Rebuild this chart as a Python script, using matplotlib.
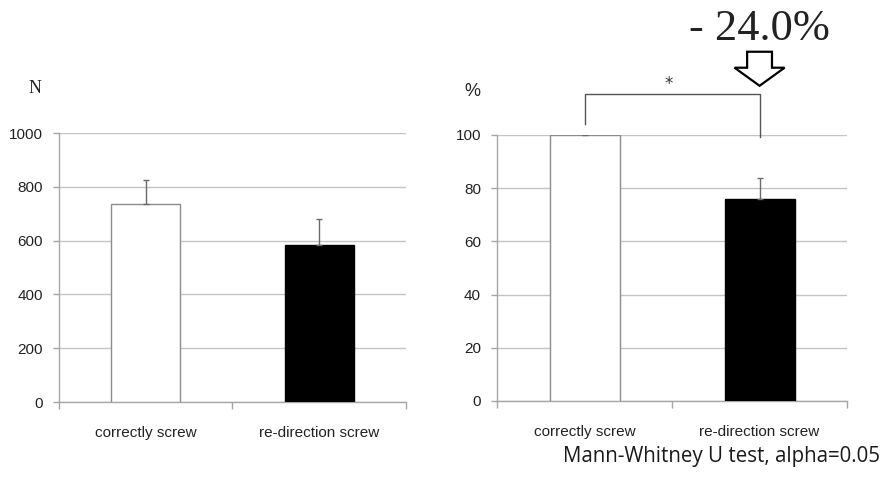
import matplotlib
matplotlib.use("Agg")
import matplotlib.pyplot as plt
from matplotlib.patches import Polygon

# data
categories = ["correctly screw", "re-direction screw"]
force_mean = [736, 584]
force_err = [90, 96]
ratio_mean = [100.0, 76.0]
ratio_err = [0.5, 8.0]
force_ticks = [0, 200, 400, 600, 800, 1000]
ratio_ticks = [0, 20, 40, 60, 80, 100]
test_note = "Mann-Whitney U test, alpha=0.05"

TICK_FONT = ["Liberation Sans", "DejaVu Sans"]
SERIF = ["Liberation Serif", "DejaVu Serif"]
GRID = "#c4c4c4"
AXIS = "#a6a6a6"


def draw_panel(ax, means, errs, ticks, unit, unit_font):
    xs = list(range(len(categories)))
    ax.bar(xs, means, width=0.4, color=["white", "black"],
           edgecolor=["#8c8c8c", "black"], linewidth=1.0, zorder=3)
    ax.errorbar(xs, means, yerr=[[0] * len(errs), errs], fmt="none",
                ecolor="#6a6a6a", elinewidth=1.0, capsize=2.2, capthick=1.0, zorder=4)

    ax.set_xlim(-0.5, len(categories) - 0.5)
    ax.set_ylim(0, ticks[-1])
    ax.set_yticks(ticks)
    ax.yaxis.grid(True, color=GRID, linewidth=1.0, zorder=0)
    ax.set_axisbelow(True)

    for side in ("top", "right"):
        ax.spines[side].set_visible(False)
    for side in ("left", "bottom"):
        ax.spines[side].set_color(AXIS)
        ax.spines[side].set_linewidth(1.0)

    ax.tick_params(axis="y", length=4.5, width=1.0, color=AXIS, pad=7,
                   labelsize=11, labelcolor="#222222")
    ax.set_xticks(xs)
    ax.set_xticklabels(categories)
    ax.set_xticks([x - 0.5 for x in range(len(categories) + 1)], minor=True)
    ax.tick_params(axis="x", which="major", length=0, pad=17,
                   labelsize=11, labelcolor="#222222")
    ax.tick_params(axis="x", which="minor", length=5, width=1.0, color=AXIS)
    for lab in ax.get_xticklabels() + ax.get_yticklabels():
        lab.set_family(TICK_FONT)

    ax.text(-0.07, 1.165, unit, transform=ax.transAxes, ha="center",
            va="center", fontsize=13, family=unit_font, color="#222222")


fig = plt.figure(figsize=(8.83, 4.83), dpi=100)
ax1 = fig.add_axes([0.0668, 0.1677, 0.393, 0.5569])
ax2 = fig.add_axes([0.5629, 0.1698, 0.3964, 0.5507])

draw_panel(ax1, force_mean, force_err, force_ticks, "N", SERIF)
draw_panel(ax2, ratio_mean, ratio_err, ratio_ticks, "%", TICK_FONT)

# significance bracket between the two bars
top = ratio_mean[0] + 15.5
ax2.plot([0, 0, 1, 1], [ratio_mean[0] + 4, top, top, ratio_mean[1] + 23.2],
         color="#555555", linewidth=1.0, clip_on=False, zorder=5)
ax2.text(0.48, top + 3.5, "*", ha="center", va="center", fontsize=12,
         color="#333333", clip_on=False)

# hollow down arrow with the drop in percent above it
ax_x = 1.0
tip = top + 3.0
neck = tip + 6.8
tail = neck + 6.0
shaft, head = 0.071, 0.143
arrow = Polygon([(ax_x - shaft, tail), (ax_x + shaft, tail), (ax_x + shaft, neck),
                 (ax_x + head, neck), (ax_x, tip), (ax_x - head, neck),
                 (ax_x - shaft, neck)], closed=True, facecolor="white",
                edgecolor="black", linewidth=1.6, clip_on=False, zorder=6)
ax2.add_patch(arrow)
drop = ratio_mean[0] - ratio_mean[1]
ax2.text(ax_x, tail + 8.5, f"- {drop:.1f}%", ha="center", va="center",
         fontsize=32, family=SERIF, color="#222222", clip_on=False)

fig.text(0.997, 0.054, test_note, ha="right", va="center", fontsize=14.8,
         family=["Open Sans", "DejaVu Sans"], color="#1a1a1a")

fig.savefig("out.png", dpi=100, facecolor="white")
